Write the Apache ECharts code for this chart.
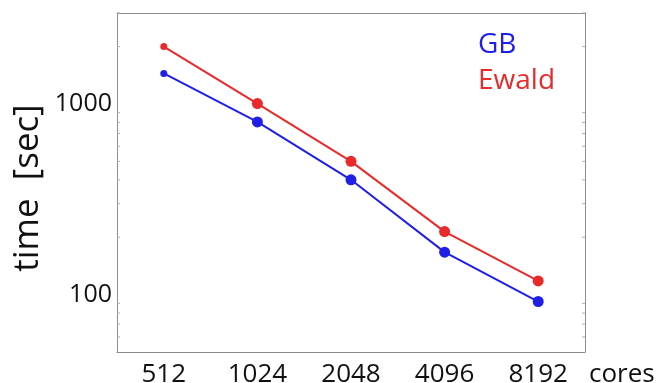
<!DOCTYPE html>
<html>
<head>
<meta charset="utf-8">
<script src="https://cdn.jsdelivr.net/npm/echarts@6/dist/echarts.min.js"></script>
<style>
  html, body { margin: 0; padding: 0; background: #fff; }
  #main { width: 665px; height: 383px; }
</style>
</head>
<body>
<div id="main"></div>
<script>
// data
var cores = ['512', '1024', '2048', '4096', '8192'];
var gbTime = [1446, 805, 400, 167, 92];
var ewaldTime = [2000, 1005, 500, 214, 118];
var markerSizes = [7, 11, 11, 11, 11];
var minorTickValues = [60, 70, 80, 90, 200, 300, 400, 500, 600, 700, 800, 900, 2000, 3000];

var BLUE = '#1f1fe8';
var RED = '#e82a2a';
var BOX = '#8c8c8c';
var FONT = 'Open Sans';

function withSizes(vals){
    var out = [];
    for (var i = 0; i < vals.length; i++) {
        out.push({ value: vals[i], symbolSize: markerSizes[i] });
    }
    return out;
}

// short ticks on both sides of the box for the log minor values
function renderMinorTick(params, api){
    var cs = params.coordSys;
    var y = api.coord([0, api.value(0)])[1];
    var style = { stroke: '#b0b0b0', lineWidth: 1 };
    return {
        type: 'group',
        children: [
            { type: 'line', shape: { x1: cs.x, y1: y, x2: cs.x + 3, y2: y }, style: style },
            { type: 'line', shape: { x1: cs.x + cs.width, y1: y, x2: cs.x + cs.width - 3, y2: y }, style: style }
        ]
    };
}

var isDecade = function(v){
    var l = Math.log(v) / Math.LN10;
    return Math.abs(l - Math.round(l)) < 1e-6;
};

var myChart = echarts.init(document.getElementById('main'), null, { renderer: 'canvas' });

var option = {
    animation: false,
    backgroundColor: '#fff',
    grid: { left: 117, right: 80, top: 13, bottom: 31, outerBoundsMode: 'none', containLabel: false },
    legend: {
        orient: 'vertical',
        left: 468,
        top: 26,
        icon: 'none',
        itemWidth: 0,
        itemGap: 8,
        selectedMode: false,
        textStyle: { fontFamily: FONT, fontSize: 28 },
        data: [
            { name: 'GB', textStyle: { color: BLUE } },
            { name: 'Ewald', textStyle: { color: RED } }
        ]
    },
    xAxis: [{
        type: 'category',
        data: cores,
        boundaryGap: true,
        position: 'bottom',
        axisLine: { lineStyle: { color: BOX, width: 1 } },
        axisTick: { alignWithLabel: true, inside: true, length: 4, lineStyle: { color: BOX } },
        axisLabel: { color: '#111', fontFamily: FONT, fontSize: 26, margin: 10 },
        splitLine: { show: false }
    }, {
        type: 'category',
        data: cores,
        boundaryGap: true,
        position: 'top',
        axisLine: { lineStyle: { color: BOX, width: 1 } },
        axisTick: { alignWithLabel: true, inside: true, length: 4, lineStyle: { color: BOX } },
        axisLabel: { show: false },
        splitLine: { show: false }
    }],
    yAxis: [{
        type: 'log',
        logBase: 10,
        min: 50,
        max: 3000,
        position: 'left',
        axisLine: { show: true, lineStyle: { color: BOX, width: 1 } },
        axisTick: { inside: true, length: 5, lineStyle: { color: BOX } },
        axisLabel: {
            color: '#111', fontFamily: FONT, fontSize: 25, margin: 5,
            showMinLabel: false, showMaxLabel: false,
            formatter: function(v){ return isDecade(v) ? String(Math.round(v)) : ''; }
        },
        splitLine: { show: false }
    }, {
        type: 'log',
        logBase: 10,
        min: 50,
        max: 3000,
        position: 'right',
        axisLine: { show: true, lineStyle: { color: BOX, width: 1 } },
        axisTick: { inside: true, length: 5, lineStyle: { color: BOX } },
        axisLabel: { show: false },
        splitLine: { show: false }
    }],
    graphic: [{
        type: 'text',
        left: 589,
        top: 362,
        style: { text: 'cores', fontFamily: FONT, fontSize: 26, fill: '#111' }
    }, {
        type: 'text',
        x: 28,
        y: 188,
        rotation: Math.PI / 2,
        style: {
            text: 'time  [sec]', fontFamily: FONT, fontSize: 35, fill: '#111',
            align: 'center', verticalAlign: 'middle'
        }
    }],
    series: [{
        name: 'GB',
        type: 'line',
        data: withSizes(gbTime),
        symbol: 'circle',
        color: BLUE,
        lineStyle: { width: 2, color: BLUE },
        itemStyle: { color: BLUE }
    }, {
        name: 'Ewald',
        type: 'line',
        data: withSizes(ewaldTime),
        symbol: 'circle',
        color: RED,
        lineStyle: { width: 2, color: RED },
        itemStyle: { color: RED }
    }, {
        name: 'minor',
        type: 'custom',
        renderItem: renderMinorTick,
        data: minorTickValues.map(function(v){ return [v]; }),
        encode: { y: 0 },
        silent: true,
        z: 1
    }]
};

myChart.setOption(option);
</script>
</body>
</html>
